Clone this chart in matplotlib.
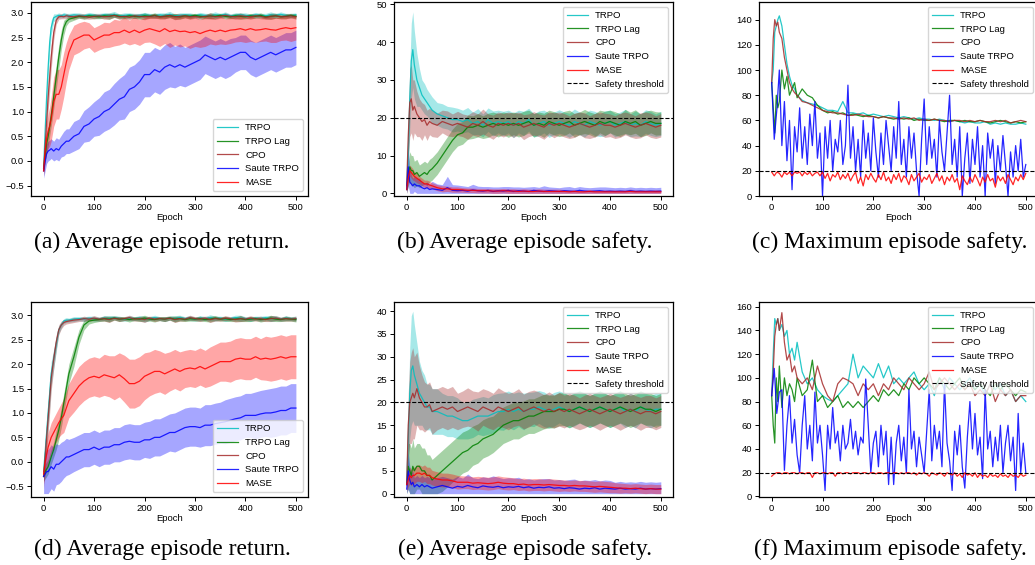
import numpy as np
import matplotlib
matplotlib.use('Agg')
import matplotlib.pyplot as plt

# epoch grid shared by most series (dense at the start where things move fast)
ep = [0, 3, 6, 9, 12, 15, 20, 25, 30, 35, 40, 45, 50] + list(range(60, 501, 10))
# finer grid for the very jagged max-safety curves
ep5 = list(range(0, 501, 5))

names = ['TRPO', 'TRPO Lag', 'CPO', 'Saute TRPO', 'MASE']
colors = ['c', 'g', 'brown', 'b', 'r']

# ---- (a) average episode return, env 1
a_trpo = [-0.15, 0.6, 1.3, 1.9, 2.4, 2.7, 2.9, 2.93, 2.95, 2.94, 2.96, 2.95, 2.94,
          2.96, 2.95, 2.94, 2.96, 2.95,
          2.94, 2.96, 2.95, 2.97, 2.94, 2.95, 2.96, 2.94, 2.95, 2.96,
          2.95, 2.94, 2.96, 2.95, 2.97, 2.94, 2.95, 2.96, 2.95, 2.94,
          2.96, 2.95, 2.94, 2.96, 2.95, 2.97, 2.94, 2.95, 2.96, 2.95,
          2.94, 2.96, 2.95, 2.94, 2.96, 2.95, 2.97, 2.95, 2.94, 2.96]
a_lag = [-0.15, 0.1, 0.35, 0.5, 0.7, 0.9, 1.3, 1.7, 2.1, 2.45, 2.7, 2.82, 2.87,
         2.9, 2.93, 2.92, 2.94, 2.93,
         2.92, 2.94, 2.93, 2.95, 2.93, 2.92, 2.94, 2.93, 2.92, 2.94,
         2.93, 2.95, 2.92, 2.93, 2.94, 2.93, 2.92, 2.94, 2.93, 2.95,
         2.93, 2.92, 2.94, 2.93, 2.95, 2.93, 2.92, 2.94, 2.93, 2.92,
         2.94, 2.93, 2.95, 2.92, 2.93, 2.94, 2.92, 2.93, 2.95, 2.93]
a_cpo = [-0.2, 0.3, 0.8, 1.3, 1.7, 2.1, 2.6, 2.85, 2.92, 2.93, 2.92, 2.94, 2.93,
         2.92, 2.94, 2.93, 2.91, 2.93,
         2.94, 2.92, 2.93, 2.95, 2.92, 2.93, 2.91, 2.94, 2.93, 2.92,
         2.93, 2.94, 2.92, 2.93, 2.95, 2.92, 2.93, 2.94, 2.92, 2.93,
         2.91, 2.93, 2.94, 2.92, 2.93, 2.95, 2.93, 2.92, 2.94, 2.93,
         2.92, 2.94, 2.93, 2.91, 2.93, 2.94, 2.92, 2.93, 2.94, 2.92]
a_saute = [-0.2, 0.0, 0.15, 0.2, 0.22, 0.25, 0.2, 0.25, 0.22, 0.3, 0.35, 0.4, 0.4,
           0.5, 0.55, 0.7, 0.75, 0.85,
           0.9, 1.0, 1.05, 1.15, 1.25, 1.3, 1.45, 1.5, 1.6, 1.75,
           1.75, 1.85, 1.8, 1.9, 1.95, 1.9, 1.95, 1.9, 1.95, 2.0,
           2.05, 2.15, 2.1, 2.05, 2.1, 2.05, 2.1, 2.15, 2.2, 2.2,
           2.1, 2.05, 2.1, 2.15, 2.2, 2.15, 2.2, 2.25, 2.25, 2.3]
a_mase = [-0.2, 0.2, 0.45, 0.6, 0.7, 0.85, 1.2, 1.35, 1.35, 1.5, 1.75, 2.0, 2.2,
          2.45, 2.5, 2.55, 2.55, 2.45,
          2.5, 2.55, 2.55, 2.6, 2.6, 2.65, 2.6, 2.65, 2.6, 2.65,
          2.68, 2.65, 2.62, 2.68, 2.62, 2.65, 2.62, 2.63, 2.6, 2.62,
          2.58, 2.62, 2.65, 2.62, 2.65, 2.62, 2.65, 2.66, 2.68, 2.65,
          2.68, 2.65, 2.66, 2.68, 2.66, 2.65, 2.68, 2.7, 2.68, 2.7]
a_trpo_bw = [0.1, 0.2, 0.25, 0.25, 0.2, 0.15, 0.08, 0.05, 0.05, 0.04, 0.05, 0.04, 0.05,
             0.04, 0.05, 0.04, 0.05, 0.04,
             0.05, 0.04, 0.05, 0.06, 0.04, 0.05, 0.04, 0.05, 0.04, 0.05,
             0.04, 0.05, 0.04, 0.05, 0.06, 0.04, 0.05, 0.04, 0.05, 0.04,
             0.05, 0.04, 0.05, 0.06, 0.04, 0.05, 0.04, 0.05, 0.04, 0.05,
             0.04, 0.05, 0.04, 0.05, 0.06, 0.04, 0.05, 0.04, 0.05, 0.04]
a_lag_bw = [0.1, 0.15, 0.2, 0.2, 0.2, 0.2, 0.25, 0.25, 0.25, 0.2, 0.15, 0.08, 0.06,
            0.05, 0.04, 0.05, 0.04, 0.05,
            0.04, 0.05, 0.06, 0.04, 0.05, 0.04, 0.05, 0.04, 0.05, 0.06,
            0.04, 0.05, 0.04, 0.05, 0.04, 0.06, 0.05, 0.04, 0.05, 0.04,
            0.05, 0.04, 0.06, 0.05, 0.04, 0.05, 0.04, 0.05, 0.06, 0.04,
            0.05, 0.04, 0.05, 0.04, 0.06, 0.05, 0.04, 0.05, 0.04, 0.05]
a_cpo_bw = [0.1, 0.15, 0.25, 0.3, 0.3, 0.25, 0.15, 0.08, 0.05, 0.05, 0.04, 0.05, 0.04,
            0.05, 0.04, 0.05, 0.04, 0.05,
            0.04, 0.05, 0.06, 0.04, 0.05, 0.04, 0.05, 0.04, 0.05, 0.06,
            0.04, 0.05, 0.04, 0.05, 0.04, 0.06, 0.05, 0.04, 0.05, 0.04,
            0.05, 0.04, 0.06, 0.05, 0.04, 0.05, 0.04, 0.05, 0.06, 0.04,
            0.05, 0.04, 0.05, 0.04, 0.06, 0.05, 0.04, 0.05, 0.04, 0.05]
a_saute_bw = [0.15, 0.2, 0.2, 0.2, 0.2, 0.2, 0.2, 0.22, 0.22, 0.22, 0.25, 0.25, 0.25,
              0.3, 0.3, 0.32, 0.35, 0.35,
              0.38, 0.4, 0.4, 0.42, 0.42, 0.45, 0.45, 0.45, 0.45, 0.45,
              0.45, 0.45, 0.45, 0.45, 0.45, 0.42, 0.42, 0.4, 0.4, 0.4,
              0.4, 0.38, 0.38, 0.38, 0.38, 0.38, 0.38, 0.35, 0.35, 0.35,
              0.35, 0.35, 0.35, 0.35, 0.35, 0.35, 0.35, 0.35, 0.35, 0.35]
a_mase_bw = [0.1, 0.2, 0.3, 0.35, 0.4, 0.45, 0.5, 0.5, 0.5, 0.45, 0.45, 0.4, 0.35,
             0.3, 0.3, 0.28, 0.25, 0.25,
             0.25, 0.26, 0.25, 0.27, 0.25, 0.26, 0.25, 0.27, 0.26, 0.25,
             0.27, 0.28, 0.3, 0.3, 0.32, 0.3, 0.31, 0.3, 0.32, 0.3,
             0.28, 0.3, 0.28, 0.27, 0.28, 0.26, 0.27, 0.25, 0.26, 0.25,
             0.26, 0.25, 0.24, 0.25, 0.26, 0.25, 0.24, 0.25, 0.26, 0.25]

# ---- (b) average episode safety, env 1
b_trpo = [2, 10, 25, 35, 38, 34, 30, 28, 26, 25, 24, 23, 22,
          21, 20.5, 20, 19.5, 19.5,
          19, 19.5, 18.5, 19, 18, 19.5, 18.5, 19, 18.5, 19,
          18, 19, 18.5, 19.5, 18, 18.5, 19, 18, 18.5, 19,
          18.5, 18, 19, 18.5, 18, 19, 18.5, 18, 18.5, 19,
          18, 18.5, 19, 18, 18.5, 18, 19, 18.5, 18, 18.5]
b_lag = [1, 5, 7, 6, 6, 5, 5.5, 4.5, 5, 5.5, 5, 6, 6.5,
         8, 10, 12, 14, 15.5,
         16, 17.5, 17.5, 18, 17.5, 18, 18.5, 18, 18.5, 18,
         18.5, 18, 18.5, 19, 18, 18.5, 18, 19, 18.5, 18,
         18.5, 19, 18, 18.5, 19, 18.5, 18, 19, 18.5, 19,
         18.5, 18, 19, 18.5, 19, 18, 18.5, 19, 18.5, 18.5]
b_cpo = [2, 15, 24, 25, 22, 23, 21, 20, 19, 19.5, 18, 19, 18.5,
         18, 19, 18.5, 18, 18.5,
         18, 17.5, 18.5, 18, 19, 18, 17.5, 18.5, 18, 18.5,
         18, 18.5, 17.5, 18, 18.5, 18, 17.5, 18.5, 18, 18.5,
         18, 17.5, 18, 18.5, 18, 17.5, 18, 18.5, 18, 18,
         17.5, 18, 18.5, 18, 17.5, 18, 18.5, 18, 17.5, 18]
b_saute = [1, 7, 3, 2.5, 2, 2.5, 2, 2, 1.5, 1.2, 1.5, 1, 1.2,
           1, 0.8, 1.5, 0.8, 0.7,
           0.8, 0.6, 0.9, 0.7, 0.6, 0.8, 0.5, 0.7, 0.6, 0.8,
           0.5, 0.7, 0.6, 0.5, 0.8, 0.6, 0.5, 0.7, 0.6, 0.5,
           0.7, 0.6, 0.5, 0.8, 0.6, 0.5, 0.6, 0.7, 0.5, 0.6,
           0.5, 0.6, 0.5, 0.7, 0.5, 0.6, 0.5, 0.6, 0.5, 0.6]
b_mase = [1, 4, 6, 5.5, 5, 4.5, 4, 3.5, 3, 2.5, 2.5, 2.2, 2,
          1.5, 1.2, 1.2, 1, 1,
          0.9, 0.8, 0.8, 0.7, 0.7, 0.7, 0.6, 0.6, 0.7, 0.6,
          0.6, 0.5, 0.6, 0.5, 0.5, 0.6, 0.5, 0.5, 0.5, 0.5,
          0.5, 0.4, 0.5, 0.4, 0.4, 0.5, 0.4, 0.4, 0.4, 0.4,
          0.4, 0.4, 0.4, 0.5, 0.4, 0.4, 0.4, 0.4, 0.4, 0.4]
b_trpo_bw = [2, 4, 8, 10, 10, 9, 7, 5, 4, 4, 3.5, 3.5, 3.5,
             3, 3.2, 3, 3.3, 3,
             3, 3.2, 3, 3.4, 3, 3.1, 3.3, 3, 3.2, 3,
             3.3, 3, 3.2, 3, 3.1, 3.3, 3, 3.2, 3, 3.1,
             3, 3.2, 3.3, 3, 3.1, 3, 3.2, 3, 3.3, 3,
             3.1, 3, 3.2, 3, 3.3, 3, 3.1, 3.2, 3, 3.2]
b_lag_bw = [1, 3, 4, 4, 4, 3.5, 3.5, 3, 3, 3, 3, 3, 3,
            3, 3, 3, 3, 3,
            3, 3.2, 3, 3.1, 3, 3.2, 3, 3.1, 3, 3.2,
            3, 3.1, 3.2, 3, 3.1, 3, 3.2, 3, 3.1, 3,
            3.2, 3, 3.1, 3, 3.2, 3, 3.1, 3, 3.2, 3,
            3.1, 3, 3.2, 3, 3.1, 3, 3.2, 3, 3.1, 3]
b_cpo_bw = [2, 6, 9, 9, 8, 7, 6, 5, 5, 4, 4, 3.5, 3.5,
            3.2, 3, 3.3, 3, 3.2,
            3, 3.2, 3.1, 3, 3.3, 3, 3.2, 3, 3.1, 3,
            3.2, 3, 3.3, 3, 3.1, 3, 3.2, 3, 3.3, 3,
            3.1, 3, 3.2, 3, 3.3, 3, 3.1, 3, 3.2, 3,
            3, 3.2, 3, 3.1, 3, 3.3, 3, 3.2, 3, 3.1]
b_saute_bw = [1, 5, 3, 2.5, 2, 2, 2, 2, 1.5, 1.5, 1.5, 1.5, 2,
              1.5, 1.5, 3, 1.5, 1.5,
              1.2, 1.2, 1.5, 1.2, 1.2, 1.0, 1.2, 1.0, 1.2, 1.0,
              1.2, 1.0, 1.0, 1.2, 1.0, 1.0, 1.5, 1.0, 1.0, 1.0,
              1.0, 1.2, 1.0, 1.0, 1.0, 1.0, 1.0, 1.0, 1.2, 1.0,
              1.0, 1.0, 1.0, 1.0, 1.0, 1.0, 1.0, 1.0, 1.0, 1.0]
b_mase_bw = [1, 1.5, 1.5, 1.5, 1.5, 1.2, 1.2, 1, 1, 1, 1, 1, 0.8,
             0.8, 0.8, 0.7, 0.7, 0.7,
             0.6, 0.6, 0.6, 0.6, 0.6, 0.6, 0.6, 0.6, 0.6, 0.6,
             0.6, 0.6, 0.6, 0.6, 0.6, 0.6, 0.6, 0.6, 0.6, 0.6,
             0.5, 0.5, 0.5, 0.5, 0.5, 0.5, 0.5, 0.5, 0.5, 0.5,
             0.5, 0.5, 0.5, 0.6, 0.5, 0.5, 0.5, 0.5, 0.6, 0.5]

# ---- (c) maximum episode safety, env 1
c_trpo = [90, 100, 130, 135, 140, 143, 135, 120, 105, 95, 88, 85, 80,
          76, 74, 73, 72, 70,
          68, 68, 67, 75, 66, 66, 65, 66, 64, 65,
          64, 63, 64, 63, 62, 63, 62, 61, 62, 61,
          61, 60, 61, 60, 59, 60, 59, 58, 59, 58,
          58, 59, 57, 58, 57, 58, 57, 57, 58, 57]
c_lag = [90, 70, 50, 80, 70, 75, 100, 85, 95, 80, 85, 90, 78,
         85, 80, 78, 72, 68,
         66, 67, 65, 66, 64, 65, 64, 63, 64, 63,
         62, 63, 62, 61, 62, 61, 62, 60, 61, 60,
         60, 61, 60, 59, 60, 60, 59, 60, 59, 59,
         60, 59, 58, 59, 60, 59, 58, 59, 58, 59]
c_cpo = [90, 125, 140, 135, 138, 130, 125, 110, 100, 90, 85, 82, 80,
         75, 74, 72, 70, 68,
         67, 66, 66, 65, 64, 64, 65, 64, 63, 63,
         62, 63, 62, 62, 61, 62, 61, 62, 60, 61,
         60, 61, 60, 60, 59, 60, 60, 59, 60, 59,
         60, 59, 59, 60, 59, 60, 58, 59, 60, 59]
# every 5 epochs
c_saute = [90,
           45, 68, 100, 40, 75, 28, 60, 5, 55, 35,
           70, 30, 55, 25, 65, 40, 75, 30, 50, 0,
           55, 30, 60, 20, 45, 35, 60, 25, 40, 88,
           30, 55, 20, 45, 15, 60, 30, 50, 20, 62,
           35, 15, 50, 25, 60, 40, 20, 55, 30, 75,
           25, 45, 15, 55, 30, 50, 20, 0, 45, 77,
           25, 55, 30, 45, 15, 60, 35, 20, 50, 80,
           25, 45, 15, 55, 0, 30, 50, 10, 45, 25,
           55, 15, 40, 0, 50, 30, 45, 10, 40, 20,
           48, 25, 0, 35, 15, 40, 20, 45, 15, 25]
c_mase = [19,
          16, 19, 18, 15, 19, 17, 19, 16, 19, 18,
          19, 16, 19, 17, 19, 16, 18, 19, 16, 19,
          14, 18, 12, 17, 15, 19, 13, 17, 14, 18,
          12, 16, 19, 10, 15, 8, 17, 13, 18, 14,
          11, 17, 13, 19, 12, 15, 10, 17, 13, 18,
          11, 16, 14, 9, 17, 12, 15, 18, 11, 15,
          13, 17, 10, 14, 18, 12, 16, 9, 15, 12,
          17, 11, 14, 5, 16, 12, 9, 15, 11, 17,
          13, 8, 15, 11, 17, 12, 14, 7, 16, 12,
          15, 10, 17, 13, 9, 15, 12, 17, 13, 18]

# ---- (d) average episode return, env 2
d_trpo = [-0.2, 0.2, 0.6, 1.0, 1.4, 1.8, 2.1, 2.4, 2.7, 2.8, 2.88, 2.9, 2.9,
          2.92, 2.93, 2.92, 2.94, 2.93,
          2.92, 2.94, 2.93, 2.95, 2.93, 2.92, 2.94, 2.93, 2.94, 2.92,
          2.93, 2.95, 2.93, 2.92, 2.94, 2.93, 2.95, 2.93, 2.94, 2.92,
          2.94, 2.93, 2.95, 2.93, 2.94, 2.92, 2.93, 2.95, 2.94, 2.93,
          2.92, 2.94, 2.93, 2.95, 2.93, 2.94, 2.92, 2.94, 2.93, 2.93]
d_lag = [-0.3, -0.2, -0.15, -0.1, 0.0, 0.1, 0.25, 0.45, 0.65, 0.9, 1.2, 1.5, 1.8,
         2.15, 2.55, 2.8, 2.88, 2.9,
         2.91, 2.93, 2.92, 2.94, 2.92, 2.93, 2.91, 2.93, 2.92, 2.94,
         2.92, 2.91, 2.93, 2.92, 2.94, 2.92, 2.93, 2.91, 2.93, 2.92,
         2.93, 2.91, 2.92, 2.94, 2.92, 2.93, 2.91, 2.92, 2.93, 2.91,
         2.92, 2.93, 2.91, 2.92, 2.94, 2.92, 2.91, 2.93, 2.92, 2.91]
d_cpo = [-0.3, 0.1, 0.5, 0.9, 1.3, 1.7, 2.1, 2.45, 2.7, 2.8, 2.85, 2.87, 2.88,
         2.9, 2.91, 2.93, 2.92, 2.94,
         2.92, 2.93, 2.91, 2.94, 2.92, 2.93, 2.95, 2.92, 2.93, 2.91,
         2.94, 2.92, 2.93, 2.92, 2.94, 2.91, 2.93, 2.92, 2.95, 2.93,
         2.92, 2.94, 2.91, 2.93, 2.92, 2.94, 2.93, 2.91, 2.93, 2.92,
         2.94, 2.92, 2.93, 2.91, 2.93, 2.94, 2.92, 2.93, 2.92, 2.93]
d_saute = [-0.3, -0.25, -0.2, -0.2, -0.15, -0.1, -0.15, -0.05, -0.05, 0.0, 0.05, 0.1, 0.1,
           0.15, 0.2, 0.25, 0.25, 0.3,
           0.25, 0.3, 0.3, 0.35, 0.35, 0.4, 0.42, 0.4, 0.4, 0.45,
           0.45, 0.5, 0.5, 0.55, 0.6, 0.6, 0.65, 0.7, 0.72, 0.72,
           0.7, 0.75, 0.75, 0.78, 0.8, 0.82, 0.85, 0.88, 0.9, 0.95,
           0.95, 0.95, 0.98, 1.0, 1.0, 1.02, 1.05, 1.05, 1.1, 1.1]
d_mase = [-0.25, 0.0, 0.15, 0.3, 0.4, 0.5, 0.6, 0.7, 0.8, 0.88, 0.95, 1.1, 1.25,
          1.4, 1.55, 1.65, 1.72, 1.75,
          1.72, 1.78, 1.75, 1.72, 1.78, 1.7, 1.6, 1.6, 1.65, 1.75,
          1.8, 1.85, 1.85, 1.8, 1.85, 1.9, 1.85, 1.9, 1.92, 1.9,
          1.95, 1.9, 1.95, 2.0, 2.05, 2.05, 2.05, 2.1, 2.12, 2.1,
          2.1, 2.15, 2.1, 2.12, 2.1, 2.12, 2.15, 2.12, 2.15, 2.15]
d_trpo_bw = [0.2, 0.25, 0.3, 0.3, 0.3, 0.25, 0.2, 0.15, 0.08, 0.06, 0.05, 0.05, 0.04,
             0.05, 0.04, 0.05, 0.04, 0.05,
             0.04, 0.05, 0.06, 0.04, 0.05, 0.04, 0.05, 0.04, 0.05, 0.06,
             0.04, 0.05, 0.04, 0.05, 0.04, 0.06, 0.05, 0.04, 0.05, 0.04,
             0.05, 0.04, 0.06, 0.05, 0.04, 0.05, 0.04, 0.05, 0.06, 0.04,
             0.05, 0.04, 0.05, 0.04, 0.06, 0.05, 0.04, 0.05, 0.04, 0.05]
d_lag_bw = [0.1, 0.15, 0.15, 0.15, 0.15, 0.15, 0.15, 0.2, 0.2, 0.2, 0.2, 0.2, 0.2,
            0.2, 0.15, 0.1, 0.06, 0.05,
            0.04, 0.05, 0.06, 0.04, 0.05, 0.04, 0.05, 0.04, 0.05, 0.06,
            0.04, 0.05, 0.04, 0.05, 0.04, 0.06, 0.05, 0.04, 0.05, 0.04,
            0.05, 0.04, 0.06, 0.05, 0.04, 0.05, 0.04, 0.05, 0.06, 0.04,
            0.05, 0.04, 0.05, 0.04, 0.06, 0.05, 0.04, 0.05, 0.04, 0.05]
d_cpo_bw = [0.25, 0.3, 0.3, 0.3, 0.3, 0.25, 0.2, 0.15, 0.1, 0.08, 0.06, 0.05, 0.05,
            0.05, 0.04, 0.05, 0.04, 0.05,
            0.04, 0.05, 0.06, 0.04, 0.05, 0.04, 0.05, 0.04, 0.05, 0.06,
            0.04, 0.05, 0.04, 0.05, 0.04, 0.06, 0.05, 0.04, 0.05, 0.04,
            0.05, 0.04, 0.06, 0.05, 0.04, 0.05, 0.04, 0.05, 0.06, 0.04,
            0.05, 0.04, 0.05, 0.04, 0.06, 0.05, 0.04, 0.05, 0.04, 0.05]
d_saute_bw = [0.35, 0.4, 0.45, 0.45, 0.45, 0.45, 0.45, 0.42, 0.4, 0.4, 0.38, 0.38, 0.36,
              0.35, 0.35, 0.35, 0.35, 0.35,
              0.35, 0.35, 0.35, 0.35, 0.35, 0.36, 0.36, 0.36, 0.36, 0.36,
              0.38, 0.38, 0.38, 0.38, 0.38, 0.4, 0.4, 0.4, 0.4, 0.4,
              0.4, 0.42, 0.42, 0.42, 0.42, 0.45, 0.45, 0.45, 0.45, 0.45,
              0.45, 0.48, 0.48, 0.48, 0.5, 0.5, 0.5, 0.5, 0.5, 0.5]
d_mase_bw = [0.2, 0.25, 0.3, 0.3, 0.3, 0.3, 0.3, 0.3, 0.3, 0.32, 0.35, 0.35, 0.35,
             0.38, 0.4, 0.4, 0.4, 0.4,
             0.4, 0.42, 0.42, 0.45, 0.45, 0.48, 0.5, 0.5, 0.5, 0.48,
             0.45, 0.45, 0.42, 0.42, 0.4, 0.4, 0.4, 0.38, 0.38, 0.38,
             0.38, 0.38, 0.4, 0.4, 0.4, 0.4, 0.42, 0.42, 0.42, 0.42,
             0.42, 0.42, 0.42, 0.45, 0.45, 0.45, 0.45, 0.45, 0.45, 0.45]

# ---- (e) average episode safety, env 2
e_trpo = [2, 12, 22, 27, 28, 26, 24, 22, 21, 20, 19, 19, 18,
          18, 17.5, 17, 17, 16.5,
          16, 16, 16.5, 17, 17, 17, 17.5, 18, 18, 18.5,
          18, 18.5, 18, 18.5, 18.5, 19, 18.5, 18, 18.5, 19,
          18.5, 18, 18.5, 19, 18.5, 18, 18.5, 19, 18.5, 18,
          18.5, 19, 18, 18.5, 18, 19, 18.5, 18, 18.5, 18.5]
e_lag = [2, 6, 5, 4, 6, 5, 6, 6, 5, 5, 4, 4, 3,
         4, 5, 6, 7, 8,
         9, 9.5, 10.5, 11, 12, 12.5, 13, 14, 15, 15.5,
         16, 16, 16.5, 17, 17, 17.5, 18, 18, 18, 18.5,
         18.5, 18, 18.5, 19, 18.5, 18, 18.5, 19, 18.5, 18,
         18.5, 19, 18.5, 18, 18.5, 19, 18.5, 18.5, 18, 18.5]
e_cpo = [2, 15, 20, 21, 22, 21, 23, 21, 20, 19, 19, 19.5, 18,
         18.5, 19, 18.5, 19, 18,
         18.5, 19, 18.5, 18, 19, 18.5, 18, 19, 18.5, 18,
         18.5, 19, 18, 18.5, 19, 18.5, 18, 18.5, 18, 18.5,
         18, 18.5, 18, 17.5, 18, 18.5, 18, 17.5, 18, 18.5,
         18, 17.5, 18, 18.5, 18, 17.5, 18, 18, 17.5, 18]
e_saute = [1, 5, 3, 2, 2.5, 1.5, 2, 1.5, 2, 1.5, 1.8, 1.5, 1.2,
           1.5, 1.8, 1.5, 1.2, 1.6,
           1.4, 1.8, 1.5, 1.3, 1.7, 1.5, 1.4, 1.6, 1.3, 1.5,
           1.4, 1.6, 1.3, 1.5, 1.2, 1.4, 1.3, 1.5, 1.2, 1.3,
           1.1, 1.3, 1.2, 1.0, 1.2, 1.1, 1.3, 1.0, 1.2, 1.1,
           1.0, 1.2, 1.0, 1.1, 1.0, 1.2, 1.0, 1.1, 1.0, 1.1]
e_mase = [2, 3, 4, 3.5, 4, 4, 4.5, 4.5, 4.2, 4.5, 4, 4, 3.5,
          3.2, 3, 3, 2.8, 2.5,
          2.5, 2.5, 2.3, 2.4, 2.3, 2.2, 2.3, 2.5, 2.3, 2.2,
          2.2, 2.0, 2.1, 1.9, 2.0, 2.0, 1.9, 2.0, 1.9, 1.8,
          1.8, 1.7, 1.8, 1.7, 1.7, 1.6, 1.5, 1.6, 1.5, 1.4,
          1.3, 1.2, 1.2, 1.1, 1.2, 1.1, 1.0, 1.1, 1.0, 1.0]
e_trpo_bw = [2, 6, 10, 12, 12, 11, 9, 7, 6, 6, 5, 5, 5,
             5, 4.5, 4.5, 4.5, 4.5,
             4, 4, 4.2, 4, 4.3, 4, 4.2, 4, 4.1, 4,
             4, 3.8, 4, 3.7, 3.8, 3.6, 3.8, 3.6, 3.7, 3.5,
             3.6, 3.5, 3.7, 3.5, 3.6, 3.5, 3.6, 3.5, 3.5, 3.5,
             3.5, 3.6, 3.5, 3.5, 3.6, 3.5, 3.5, 3.6, 3.5, 3.5]
e_lag_bw = [2, 5, 6, 6, 6, 5, 5, 5, 5, 5, 4.5, 4.5, 4.5,
            4.5, 4.5, 4.5, 4.5, 4.5,
            4.5, 4.5, 4.3, 4.3, 4.2, 4.2, 4, 4, 4, 4,
            4, 4, 3.8, 3.8, 3.8, 3.8, 3.8, 3.6, 3.6, 3.6,
            3.6, 3.6, 3.5, 3.5, 3.5, 3.5, 3.5, 3.5, 3.5, 3.5,
            3.5, 3.5, 3.5, 3.5, 3.5, 3.5, 3.5, 3.5, 3.5, 3.5]
e_cpo_bw = [2, 7, 9, 10, 10, 9, 8, 7, 6, 5.5, 5, 5, 5,
            4.5, 4.5, 4.5, 4.5, 4,
            4, 4.2, 4, 4.3, 4, 4.1, 4, 4.2, 4, 4,
            3.8, 4, 3.8, 3.9, 3.7, 3.8, 3.7, 3.8, 3.6, 3.7,
            3.6, 3.5, 3.6, 3.5, 3.6, 3.5, 3.5, 3.6, 3.5, 3.5,
            3.5, 3.6, 3.5, 3.5, 3.5, 3.6, 3.5, 3.5, 3.5, 3.5]
e_saute_bw = [2, 4, 3, 2.5, 2.5, 2, 2, 2, 2, 2, 2, 2, 2,
              2, 2, 2, 2, 2.2,
              2, 2.5, 2, 2, 2, 2, 2.5, 2, 2, 2,
              2, 2, 1.8, 1.8, 1.8, 1.8, 2, 1.8, 1.8, 1.8,
              1.8, 1.8, 2, 1.8, 1.8, 1.8, 1.8, 1.8, 1.8, 1.8,
              1.5, 1.5, 1.5, 1.5, 1.5, 1.5, 1.5, 1.5, 1.5, 1.5]
e_mase_bw = [1.5, 1.5, 1.8, 1.8, 1.8, 1.8, 1.8, 1.8, 1.8, 1.8, 1.8, 1.8, 1.6,
             1.6, 1.5, 1.5, 1.5, 1.5,
             1.4, 1.4, 1.4, 1.4, 1.4, 1.4, 1.4, 1.4, 1.4, 1.4,
             1.3, 1.3, 1.3, 1.3, 1.3, 1.3, 1.3, 1.3, 1.3, 1.3,
             1.2, 1.2, 1.2, 1.2, 1.2, 1.2, 1.2, 1.2, 1.2, 1.2,
             1.1, 1.1, 1.0, 1.0, 1.0, 1.0, 1.0, 1.0, 1.0, 1.0]

# ---- (f) maximum episode safety, env 2
f_trpo = [85, 120, 150, 145, 150, 140, 145, 135, 140, 120, 125, 115, 130,
          105, 95, 100, 90, 85,
          82, 80, 85, 90, 95, 120, 100, 110, 105, 100,
          112, 100, 110, 95, 100, 95, 100, 105, 95, 90,
          95, 85, 100, 90, 100, 95, 90, 95, 100, 90,
          95, 85, 95, 90, 95, 85, 90, 80, 85, 80]
f_lag = [85, 60, 45, 100, 80, 110, 75, 100, 85, 95, 90, 80, 100,
         85, 90, 115, 80, 85,
         75, 80, 85, 75, 80, 75, 80, 75, 80, 85,
         80, 90, 85, 90, 85, 95, 90, 100, 95, 100,
         95, 90, 100, 95, 90, 95, 100, 90, 95, 90,
         95, 90, 85, 95, 90, 95, 90, 85, 90, 88]
f_cpo = [85, 105, 135, 145, 150, 140, 155, 130, 115, 120, 105, 110, 100,
         95, 100, 90, 110, 95,
         85, 80, 95, 100, 98, 95, 85, 95, 90, 95,
         85, 95, 90, 100, 95, 90, 100, 95, 90, 95,
         105, 90, 95, 100, 95, 90, 95, 90, 95, 85,
         90, 85, 95, 80, 90, 85, 90, 80, 85, 85]
# every 5 epochs
f_saute = [85,
           108, 70, 88, 90, 22, 60, 85, 45, 65, 35,
           20, 60, 85, 40, 60, 30, 88, 45, 60, 35,
           5, 60, 40, 75, 45, 55, 30, 60, 40, 45,
           65, 40, 55, 35, 50, 45, 99, 60, 20, 45,
           55, 25, 60, 35, 55, 10, 50, 10, 45, 60,
           30, 50, 20, 90, 40, 55, 25, 50, 35, 20,
           55, 90, 30, 60, 40, 55, 25, 95, 45, 30,
           5, 55, 35, 60, 25, 7, 50, 80, 40, 70,
           35, 50, 15, 90, 40, 55, 25, 50, 30, 60,
           20, 45, 60, 30, 50, 5, 70, 20, 45, 20]
f_mase = [17,
          19, 20, 20, 19, 20, 20, 19, 20, 20, 19,
          20, 20, 19, 20, 20, 16, 20, 20, 19, 20,
          20, 19, 20, 20, 17, 20, 20, 19, 20, 20,
          19, 20, 20, 20, 19, 20, 20, 19, 20, 20,
          19, 20, 20, 19, 20, 20, 19, 20, 20, 19,
          20, 19, 20, 20, 19, 20, 18, 20, 19, 20,
          19, 17, 20, 19, 18, 20, 19, 17, 20, 19,
          18, 20, 17, 19, 16, 20, 18, 19, 17, 20,
          16, 19, 17, 18, 16, 19, 17, 18, 16, 19,
          17, 18, 16, 19, 17, 18, 16, 19, 17, 18]

W, H = 1035, 565
plt.rcParams['font.family'] = ['Liberation Sans', 'DejaVu Sans']
fig = plt.figure(figsize=(W / 100, H / 100), dpi=100)


def box(l, t, r, b):
    return [l / W, 1 - b / H, (r - l) / W, (b - t) / H]


def panel(rect, means, widths, ylim, yticks, loc, thr=None):
    ax = fig.add_axes(box(*rect))
    for name, col, m, w in zip(names, colors, means, widths):
        m = np.array(m, float)
        x = np.array(ep5 if len(m) == len(ep5) else ep)
        assert len(m) == len(x), name
        if w is not None:
            w = np.array(w, float)
            assert len(w) == len(x), name
            lo = m - w
            if thr is not None:
                lo = np.maximum(lo, 0)
            ax.fill_between(x, lo, m + w, color=col, alpha=0.35, lw=0)
        ax.plot(x, m, color=col, lw=0.9, alpha=0.85, label=name)
    if thr is not None:
        ax.axhline(thr, color='k', ls='--', lw=0.8, label='Safety threshold')
    ax.set_xlim(-25, 524)
    ax.set_ylim(*ylim)
    ax.set_xticks([0, 100, 200, 300, 400, 500])
    ax.set_yticks(yticks)
    ax.tick_params(labelsize=6.8, length=3, width=0.7, pad=2)
    ax.set_xlabel('Epoch', fontsize=6.8, labelpad=0.5)
    for s in ax.spines.values():
        s.set_linewidth(0.9)
    ax.legend(loc=loc, fontsize=6.8, labelspacing=0.5, handlelength=2.2,
              borderpad=0.45, handletextpad=0.8)
    return ax


panel((31, 2, 308, 196), [a_trpo, a_lag, a_cpo, a_saute, a_mase],
      [a_trpo_bw, a_lag_bw, a_cpo_bw, a_saute_bw, a_mase_bw],
      (-0.71, 3.22), [-0.5, 0.0, 0.5, 1.0, 1.5, 2.0, 2.5, 3.0], 'lower right')
panel((394, 2, 673, 196), [b_trpo, b_lag, b_cpo, b_saute, b_mase],
      [b_trpo_bw, b_lag_bw, b_cpo_bw, b_saute_bw, b_mase_bw],
      (-0.7, 50.6), [0, 10, 20, 30, 40, 50], 'upper right', thr=20)
panel((759, 2, 1038, 196), [c_trpo, c_lag, c_cpo, c_saute, c_mase],
      [None] * 5, (0, 154), [0, 20, 40, 60, 80, 100, 120, 140], 'upper right', thr=20)
panel((31, 302, 308, 497), [d_trpo, d_lag, d_cpo, d_saute, d_mase],
      [d_trpo_bw, d_lag_bw, d_cpo_bw, d_saute_bw, d_mase_bw],
      (-0.72, 3.27), [-0.5, 0.0, 0.5, 1.0, 1.5, 2.0, 2.5, 3.0], 'lower right')
panel((394, 302, 673, 497), [e_trpo, e_lag, e_cpo, e_saute, e_mase],
      [e_trpo_bw, e_lag_bw, e_cpo_bw, e_saute_bw, e_mase_bw],
      (-0.73, 42.0), [0, 5, 10, 15, 20, 25, 30, 35, 40], 'upper right', thr=20)
panel((759, 302, 1038, 497), [f_trpo, f_lag, f_cpo, f_saute, f_mase],
      [None] * 5, (-0.5, 164), [0, 20, 40, 60, 80, 100, 120, 140, 160], 'upper right', thr=20)

captions = ['(a) Average episode return.', '(b) Average episode safety.',
            '(c) Maximum episode safety.', '(d) Average episode return.',
            '(e) Average episode safety.', '(f) Maximum episode safety.']
cap_x = [162, 525, 890]
cap_y = [248, 555]
for i, c in enumerate(captions):
    fig.text(cap_x[i % 3] / W, 1 - cap_y[i // 3] / H, c, ha='center', va='baseline',
             fontsize=17, family=['Liberation Serif', 'DejaVu Serif'])

fig.savefig('out.png', dpi=100)
